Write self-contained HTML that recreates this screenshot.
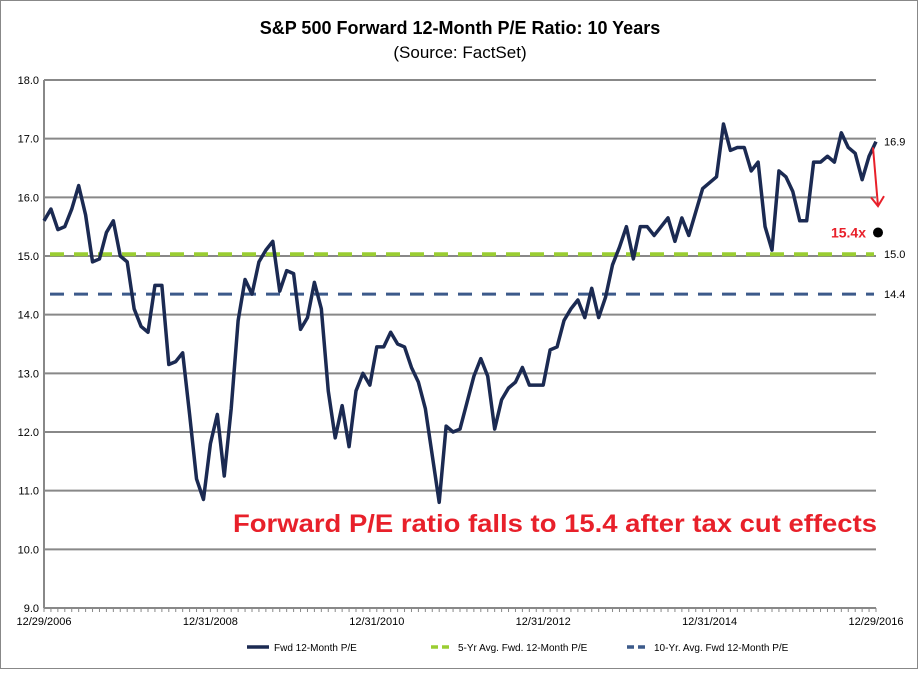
<!DOCTYPE html>
<html><head><meta charset="utf-8"><style>
body{margin:0;background:#fff;font-family:"Liberation Sans",sans-serif}
svg text{font-family:"Liberation Sans",sans-serif}
</style></head><body>
<svg id="c" width="920" height="671">
<rect x="0.5" y="0.5" width="917" height="668" fill="#fff" stroke="#888"/>
<text x="460" y="34" text-anchor="middle" font-size="18" font-weight="bold">S&amp;P 500 Forward 12-Month P/E Ratio: 10 Years</text>
<text x="460" y="58" text-anchor="middle" font-size="17">(Source: FactSet)</text>
<g id="grid"></g><g id="series"></g><g id="ann"></g>
</svg>
<script>
const yTicks=[9,10,11,12,13,14,15,16,17,18];
const xLabels=["12/29/2006","12/31/2008","12/31/2010","12/31/2012","12/31/2014","12/29/2016"];
const xLabelIdx=[0,24,48,72,96,120];
const fwdPE=[15.6,15.8,15.45,15.5,15.8,16.2,15.7,14.9,14.95,15.4,
15.6,15.0,14.9,14.1,13.8,13.7,14.5,14.5,13.15,13.2,
13.35,12.3,11.2,10.85,11.8,12.3,11.25,12.4,13.9,14.6,
14.35,14.9,15.1,15.25,14.4,14.75,14.7,13.75,13.95,14.55,
14.1,12.7,11.9,12.45,11.75,12.7,13.0,12.8,13.45,13.45,
13.7,13.5,13.45,13.1,12.85,12.4,11.6,10.8,12.1,12.0,
12.05,12.5,12.95,13.25,12.95,12.05,12.55,12.75,12.85,13.1,
12.8,12.8,12.8,13.4,13.45,13.9,14.1,14.25,13.95,14.45,
13.95,14.3,14.85,15.15,15.5,14.95,15.5,15.5,15.35,15.5,
15.65,15.25,15.65,15.35,15.75,16.15,16.25,16.35,17.25,16.8,
16.85,16.85,16.45,16.6,15.5,15.1,16.45,16.35,16.1,15.6,
15.6,16.6,16.6,16.7,16.6,17.1,16.85,16.75,16.3,16.7,16.95];
const avg5=[15.03];
const avg10=[14.35];
const avgLabels=["16.9","15.0","14.4"];
const current=[15.4];
const NS="http://www.w3.org/2000/svg";
const X0=44,X1=876,Y0=608,Y1=80;
const sx=i=>X0+(X1-X0)*i/(fwdPE.length-1);
const sy=v=>Y0-(v-9)/(18-9)*(Y0-Y1);
function mk(t,a,p){const e=document.createElementNS(NS,t);for(const k in a)e.setAttribute(k,a[k]);p.appendChild(e);return e;}
const g=document.getElementById('grid'),s=document.getElementById('series'),an=document.getElementById('ann');
yTicks.forEach(v=>{
 const l=mk('line',{x1:X0,x2:X1,y1:sy(v),y2:sy(v),stroke:'#888','stroke-width':2},g);
 
 
 const t=mk('text',{x:X0-5,y:sy(v)+4,'text-anchor':'end','font-size':11},g);t.textContent=v.toFixed(1);
 
 
});
const ax=mk('line',{x1:X0,x2:X0,y1:Y1,y2:Y0,stroke:'#888','stroke-width':2},g);


for(let i=0;i<fwdPE.length;i++){mk('line',{x1:sx(i),x2:sx(i),y1:Y0,y2:Y0+4,stroke:'#888'},g);}
xLabels.forEach((lab,k)=>{
 const t=mk('text',{x:sx(xLabelIdx[k]),y:Y0+17,'text-anchor':'middle','font-size':11},g);t.textContent=lab;
 
 
});
const l5=mk('line',{x1:X0+6,x2:X1-2,y1:sy(avg5[0]),y2:sy(avg5[0]),stroke:'#9ACD32','stroke-width':4,'stroke-dasharray':'14 10'},s);


const l10=mk('line',{x1:X0+6,x2:X1-2,y1:sy(avg10[0]),y2:sy(avg10[0]),stroke:'#3C5A8A','stroke-width':3,'stroke-dasharray':'14 10'},s);


const p=mk('polyline',{points:fwdPE.map((v,i)=>sx(i)+','+sy(v)).join(' '),fill:'none',stroke:'#1B2A52','stroke-width':3.5,'stroke-linejoin':'round'},s);


function lab(txt,v,name){const t=mk('text',{x:884,y:sy(v)+4,'font-size':11},an);t.textContent=txt;
 
 }
lab(avgLabels[0],fwdPE[fwdPE.length-1],'last-value-label');
lab(avgLabels[1],avg5[0],'five-year-avg-label');
lab(avgLabels[2],avg10[0],'ten-year-avg-label');
const ar=mk('path',{d:`M873 ${sy(16.85)} L878 ${sy(15.85)} M871 ${sy(16.0)} L878 ${sy(15.85)} L884 ${sy(16.02)}`,stroke:'#E8202A','stroke-width':2,fill:'none'},an);


const d=mk('circle',{cx:878,cy:sy(current[0]),r:5,fill:'#000'},an);


const ct=mk('text',{x:866,y:sy(current[0])+5,'text-anchor':'end','font-size':14,'font-weight':'bold',fill:'#E8202A'},an);ct.textContent=current[0]+'x';


const big=mk('text',{x:233,y:532,'font-size':25,'font-weight':'bold',fill:'#E8202A',textLength:644,lengthAdjust:'spacingAndGlyphs'},an);big.textContent='Forward P/E ratio falls to 15.4 after tax cut effects';


const leg=[["Fwd 12-Month P/E","#1B2A52","",247],["5-Yr Avg. Fwd. 12-Month P/E","#9ACD32","7 4",431],["10-Yr. Avg. Fwd 12-Month P/E","#3C5A8A","7 4",627]];
leg.forEach(([n,c,da,x])=>{
 const l=mk('line',{x1:x,x2:x+22,y1:647,y2:647,stroke:c,'stroke-width':3.5,'stroke-dasharray':da},an);
 
 
 const t=mk('text',{x:x+27,y:651,'font-size':10},an);t.textContent=n;
 
 
});
</script>
</body></html>
